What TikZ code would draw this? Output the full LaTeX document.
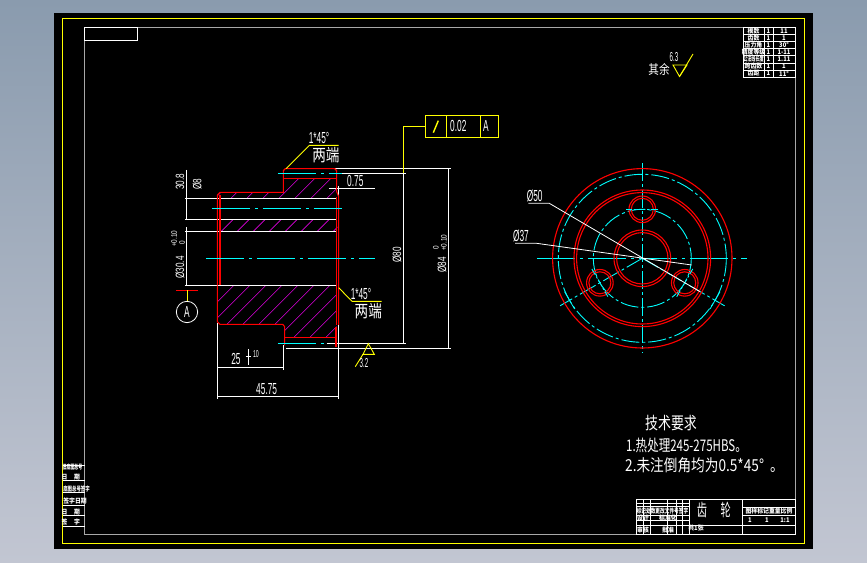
\documentclass[tikz,border=0pt]{standalone}
\usepackage{fontspec}
\setmainfont{Liberation Sans}
\newfontfamily\cjk{Noto Sans CJK SC}
\usetikzlibrary{calc}
\definecolor{cadyel}{HTML}{FFFF00}
\definecolor{cadred}{HTML}{FF0000}
\definecolor{cadcyan}{HTML}{00FFFF}
\definecolor{cadmag}{HTML}{E000E0}
\definecolor{cadgray}{HTML}{A8A8A8}
\tikzset{
  wl/.style={draw=white,line width=0.8pt},
  yl/.style={draw=cadyel,line width=0.9pt},
  rl/.style={draw=cadred,line width=1.1pt},
  cl/.style={draw=cadcyan,line width=0.9pt,dash pattern=on 18pt off 3pt on 3pt off 3pt},
  clong/.style={draw=cadcyan,line width=0.9pt,dash pattern=on 38pt off 5pt on 3pt off 5pt},
  hl/.style={draw=cadmag,line width=0.6pt},
  cad/.style={text=white,inner sep=0pt,font=\fontsize{16}{16}\selectfont,xscale=0.52},
  rcad/.style={text=white,inner sep=0pt,font=\fontsize{12}{12}\selectfont,rotate=90,xscale=0.68},
  rsmall/.style={text=white,inner sep=0pt,font=\fontsize{8}{8}\selectfont,rotate=90,xscale=0.8},
  cadcn/.style={text=white,inner sep=0pt,font=\cjk\fontsize{17}{17}\selectfont,xscale=0.8},
  tinytx/.style={text=white,inner sep=0pt,font=\cjk\bfseries\fontsize{6.5}{6.5}\selectfont,xscale=0.9},
}
\begin{document}
\begin{tikzpicture}[x=1pt,y=-1pt]
\useasboundingbox (0,0) rectangle (867,562);
\path[top color={rgb,255:red,138;green,155;blue,174},bottom color={rgb,255:red,194;green,198;blue,210}] (0,0) rectangle (867,562);
\fill[black] (54,13) rectangle (813,549);
\draw[yl] (62.5,18.5) rectangle (804.5,543.5);
\draw[draw=cadgray,line width=0.8pt] (84.5,27.5) rectangle (795.5,534.5);
\draw[wl] (84.5,27.5) rectangle (137.5,40.5);

% ---------- top right table ----------
\draw[wl] (743,27.5) rectangle (795.5,77);
\foreach \y in {34.6,41.7,48.8,55.8,62.9,70} \draw[wl] (743,\y) -- (795.5,\y);
\draw[wl] (764,27.5) -- (764,77);
\draw[wl] (773,27.5) -- (773,77);
\foreach \y/\a/\b/\c [count=\i] in {31/模数/1/11,38.2/齿数/1/1,45.3/压力角/1/30°,52.3/精度等级/1/1-11,66.5/跨齿数/1/1,73.5/齿距/1/11°}{
  \node[tinytx] (tra\i) at (753.5,\y) {\a};
  \node[tinytx] (trb\i) at (768.5,\y) {\b};
  \node[tinytx] (trc\i) at (784,\y) {\c};
}
\node[tinytx,xscale=0.7] (tra7) at (753.5,59.4) {公法线长度};
\node[tinytx] (trb7) at (768.5,59.4) {1};
\node[tinytx] (trc7) at (784,59.4) {1.11};
\node[cadcn,font=\cjk\fontsize{13}{13}\selectfont,xscale=1.02] (rest) at (659,70) {其余};
\node[cad,font=\fontsize{13}{13}\selectfont,xscale=0.92] (r63) at (674,57) {6.3};
\draw[yl] (673,65) -- (687,65) -- (679.5,76.5) -- cycle;
\draw[yl] (679.5,76.5) -- (693,54);

% ---------- left view ----------
\begin{scope}[shift={(160,110)},x=0.3333pt,y=-0.3333pt]
  % hatching
  \begin{scope}
    \clip (172,255) -- (180,248) -- (370,248) -- (370,207) -- (530,207) -- (530,265) -- (172,265) -- cycle;
    \foreach \c in {430,478,...,1000} \draw[hl] (\c-300,300) -- (\c-150,150);
  \end{scope}
  \begin{scope}
    \clip (172,328) rectangle (532,364);
    \foreach \c in {500,548,...,1000} \draw[hl] (\c-380,380) -- (\c-310,310);
  \end{scope}
  \begin{scope}
    \clip (172,526) -- (530,526) -- (530,682) -- (374,682) -- (374,650) -- (368,643) -- (180,643) -- (172,635) -- cycle;
    \foreach \c in {700,748,...,1300} \draw[hl] (\c-700,700) -- (\c-500,500);
  \end{scope}
  % white lines
  \draw[wl] (75,265) -- (530,265);
  \draw[wl] (75,328) -- (530,328);
  \draw[wl] (75,364) -- (530,364);
  \draw[wl] (75,526) -- (530,526);
  \draw[wl] (78,180) -- (78,328);
  \draw[wl] (78,352) -- (78,526);
  \draw[wl] (524,176) -- (872,176);
  \draw[wl] (540,190) -- (737,190);
  \draw[wl] (500,700) -- (737,700);
  \draw[wl] (378,715) -- (872,715);
  \draw[wl] (866,176) -- (866,715);
  \draw[wl] (730,190) -- (730,700);
  \draw[wl] (508,235) -- (645,235);
  \draw[wl] (535,228) -- (535,260);
  \draw[wl] (536,645) -- (536,866);
  \draw[wl] (172,640) -- (172,866);
  \draw[wl] (370,706) -- (370,780);
  \draw[wl] (172,772) -- (370,772);
  \draw[wl] (172,859) -- (536,859);
  % red outline
  \draw[rl] (172,526) -- (172,255) -- (180,247) -- (370,247) -- (370,182) -- (376,176) -- (524,176) -- (530,182) -- (530,245) -- (536,260) -- (536,645);
  \draw[rl] (180,255) -- (180,526);
  \draw[rl] (530,260) -- (530,526);
  \draw[rl] (370,205) -- (530,205);
  \draw[rl] (172,526) -- (172,635) -- (180,643) -- (368,643) -- (374,650) -- (374,706);
  \draw[rl] (374,682) -- (528,682);
  \draw[rl] (528,650) -- (528,712);
  \draw[rl] (530,526) -- (530,645);
  \draw[rl] (48,541) -- (113,541);
  % centre lines
  \draw[clong] (354,190) -- (545,190);
  \draw[clong] (156,295) -- (546,295);
  \draw[clong] (138,445) -- (645,445);
  \draw[clong] (354,700) -- (500,700);
  % datum
  \draw[yl] (82,541) -- (82,573);
  \draw[wl] (81,606) circle (32);
  \node[cad] (da) at (81,606) {A};
  % geometric tolerance frame
  \draw[yl] (797,17) rectangle (1015,82);
  \draw[yl] (859,17) -- (859,82);
  \draw[yl] (961,17) -- (961,82);
  \draw[yl] (797,48) -- (730,48) -- (730,190);
  \draw[yl,line width=1.4pt] (820,68) -- (835,32);
  \node[cad] (gt) at (895,49) {0.02};
  \node[cad] (ga) at (978,49) {A};
  % chamfer leaders
  \draw[yl] (378,176) -- (448,106) -- (536,106);
  \node[cad] (c1) at (477,84) {1*45°};
  \node[cadcn] (c1b) at (498,135) {两端};
  \draw[yl] (536,533) -- (576,574) -- (665,574);
  \node[cad] (c2) at (603,552) {1*45°};
  \node[cadcn] (c2b) at (625,602) {两端};
  % surface finish
  \draw[yl] (625,701) -- (609,733) -- (643,733) -- cycle;
  \draw[yl] (609,733) -- (586,770);
  \node[cad,font=\fontsize{13}{13}\selectfont,xscale=0.92] (f32) at (612,760) {3.2};
  % dimensions
  \node[cad] (d075) at (586,213) {0.75};
  \node[cad] (d25) at (228,746) {25};
  \draw[wl,line width=1.2pt] (266,718) -- (266,766);
  \draw[wl] (258,738) -- (274,738);
  \node[cad,font=\fontsize{10}{10}\selectfont] (d10) at (288,732) {10};
  \node[cad] (d4575) at (320,836) {45.75};
  \node[rcad] (d80) at (711,434) {Ø80};
  \node[rcad] (d84) at (846,464) {Ø84};
  \node[rsmall] (d84t) at (852,398) {+0.10};
  \node[rsmall] (d84o) at (828,412) {0};
  \node[rcad] (d304) at (60,472) {Ø30.4};
  \node[rsmall] (d304t) at (42,386) {+0.10};
  \node[rsmall] (d304o) at (66,397) {0};
  \node[rcad] (d308) at (60,215) {30.8};
  \node[rcad] (d8) at (112,222) {Ø8};
\end{scope}

% ---------- right view ----------
\begin{scope}[shift={(642.3,258.3)}]
  \draw[clong] (-105.5,0) -- (105,0);
  \draw[cl] (0,-95) -- (0,95);
  \draw[cl] (0,0) -- (30:95);
  \draw[cl] (0,0) -- (150:95);
  \draw[cl] (0,0) circle (84);
  \draw[cl] (0,0) circle (49);
  \foreach \a/\n in {30/a,150/b,270/c}{
    \draw[rl] (\a:49) circle (13.3);
    \draw[rl] (\a:49) circle (11);
    \draw[cl,dash pattern=on 7pt off 2pt on 2pt off 2pt] ($(\a:49)+(\a+90:16)$) -- ($(\a:49)+(\a-90:16)$);
  }
  \foreach \a in {30,150}
    \draw[draw=cadcyan,line width=0.8pt] ($(\a:84)+(\a+90:10)$) -- ($(\a:84)+(\a-90:10)$);
  \draw[rl] (0,0) circle (89.7);
  \draw[rl] (0,0) circle (68.3);
  \draw[rl] (0,0) circle (65.7);
  \draw[rl] (0,0) circle (28.3);
  \draw[rl] (0,0) circle (25.7);
\end{scope}
\begin{scope}[shift={(500,150)},x=0.3333pt,y=-0.3333pt]
  \draw[wl] (85,160) -- (148,160) -- (600,425);
  \draw[wl] (45,280) -- (110,280) -- (575,345);
  \node[cad] (p50) at (104,138) {Ø50};
  \node[cad] (p37) at (63,258) {Ø37};
\end{scope}

% ---------- technical requirements ----------
\node[cadcn,xscale=0.95] (tr0) at (671,423) {技术要求};
\node[cadcn,anchor=west,font=\cjk\fontsize{16}{16}\selectfont,xscale=0.9] (tr1) at (626,445) {1.热处理245-275HBS。};
\node[cadcn,anchor=west,font=\cjk\fontsize{16.5}{16.5}\selectfont,xscale=1.035] (tr2) at (625,465) {2.未注倒角均为0.5*45°\ \ 。};

% ---------- title block ----------
\draw[wl] (636,499.3) rectangle (795.5,534.3);
\draw[wl] (689.3,499.3) -- (689.3,534.3);
\draw[wl] (742.3,499.3) -- (742.3,534.3);
\foreach \y in {503,506.7,515.3,520.7,525.7} \draw[wl] (636,\y) -- (689.3,\y);
\draw[wl] (689.3,525.7) -- (795.5,525.7);
\foreach \x in {643,650.7,667,676.7,682.7} \draw[wl] (\x,499.3) -- (\x,534.3);
\foreach \y in {507.7,515,525} \draw[wl] (742.3,\y) -- (795.5,\y);
\node[cadcn,xscale=0.75] (tg1) at (702,510) {齿};
\node[cadcn,xscale=0.75] (tg2) at (725.7,510) {轮};
\node[tinytx,xscale=0.8] (tb1) at (662.5,511) {标记处数更改文件号签字};
\node[tinytx] (tb2) at (643,518) {设计};
\node[tinytx] (tb3) at (668,518) {标准化};
\node[tinytx] (tb4) at (643,530) {审核};
\node[tinytx] (tb5) at (668,530) {批准};
\node[tinytx] (tb6) at (696,528.5) {共1张};
\node[tinytx] (tb7) at (769,511) {图样标记重量比例};
\node[tinytx] (tb8) at (750,520) {1};
\node[tinytx] (tb9) at (767,520) {1};
\node[tinytx] (tb10) at (785,520) {1:1};

% ---------- left side table ----------
\foreach \y in {465,480.7,492.5,505,515.7,526.7} \draw[wl] (62.5,\y) -- (84.5,\y);
\node[tinytx,xscale=0.68] (lt1) at (72.5,466.7) {旧底图总号};
\node[tinytx] (lt2a) at (64.5,476.7) {日};
\node[tinytx] (lt2b) at (77,476.7) {期};
\node[tinytx,xscale=0.75] (lt3) at (76.5,489) {底图总号签字};
\node[tinytx] (lt4) at (75,500.7) {签字日期};
\node[tinytx] (lt5a) at (64.5,512) {日};
\node[tinytx] (lt5b) at (77,512) {期};
\node[tinytx] (lt6a) at (64.5,522) {签};
\node[tinytx] (lt6b) at (77,522) {字};
\end{tikzpicture}
\end{document}
